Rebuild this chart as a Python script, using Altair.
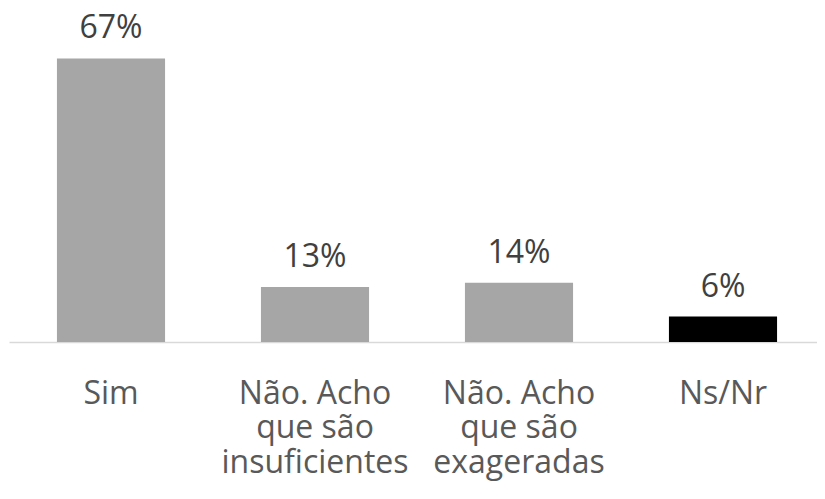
import altair as alt
import pandas as pd

categories = ["Sim", "Não. Acho\nque são\ninsuficientes", "Não. Acho\nque são\nexageradas", "Ns/Nr"]
values = [67, 13, 14, 6]
labels = ["67%", "13%", "14%", "6%"]
colors = ["#a6a6a6", "#a6a6a6", "#a6a6a6", "#000000"]

df = pd.DataFrame({"cat": categories, "val": values, "lab": labels, "col": colors})

FONT = "Open Sans"

base = alt.Chart(df).encode(
    x=alt.X("cat:N", sort=categories,
            scale=alt.Scale(paddingInner=0.47, paddingOuter=0.235, range=[0, 816]),
            axis=alt.Axis(title=None, labelAngle=0, ticks=False,
                          labelExpr="split(datum.label, '\\n')",
                          labelFont=FONT, labelFontSize=32, labelColor="#595959",
                          labelLineHeight=34.5, labelPadding=36, labelOverlap=False,
                          labelBound=False, labelFlush=False, labelLimit=400,
                          domainColor="#d9d9d9", domainWidth=1.5)),
    y=alt.Y("val:Q", scale=alt.Scale(domain=[0, 76.54], nice=False), axis=None),
)

bars = base.mark_bar().encode(color=alt.Color("col:N", scale=None))
text = base.mark_text(dy=-13, baseline="bottom", font=FONT, fontSize=32, color="#404040").encode(text="lab:N")

chart = (bars + text).properties(
    width=808, height=324,
    padding={"left": 1, "top": 10, "right": 0, "bottom": 140},
    autosize=alt.AutoSizeParams(type="none"),
).configure_view(stroke=None)

chart.save("out.html", embed_options={"renderer": "svg", "actions": False})
